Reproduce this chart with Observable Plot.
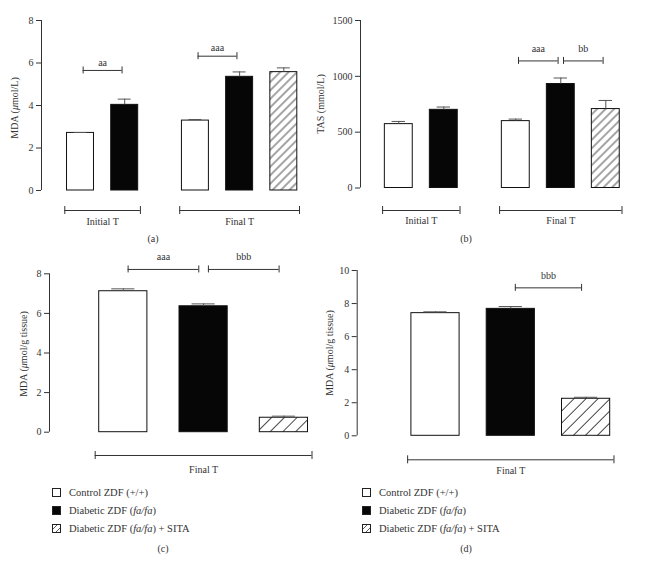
<!DOCTYPE html>
<html>
<head>
<meta charset="utf-8">
<script src="https://cdn.jsdelivr.net/npm/d3@7"></script>
<script src="https://cdn.jsdelivr.net/npm/@observablehq/plot@0.6"></script>
<style>
  body { margin: 0; background: #fff; }
  #fig { position: relative; width: 646px; height: 561px; font-family: "Liberation Serif", "DejaVu Serif", serif; color: #333; }
  .panel { position: absolute; }
  .cap { position: absolute; font-size: 10px; transform: translate(-50%, -50%); white-space: nowrap; }
  .ylab { position: absolute; font-size: 10px; transform: translate(-50%, -50%) rotate(-90deg); white-space: nowrap; }
  .leg { position: absolute; font-size: 10.5px; white-space: nowrap; }
  .leg .row { height: 18px; display: flex; align-items: center; }
  .leg .sw { width: 9px; height: 9px; box-sizing: border-box; border: 1px solid #222; margin-right: 8px; }
</style>
</head>
<body>
<div id="fig"></div>
<script>
// ---------- data ----------
const treatments = ["Control ZDF (+/+)", "Diabetic ZDF (fa/fa)", "Diabetic ZDF (fa/fa) + SITA"];
const timeGroups = ["Initial T", "Final T"];

// (a) MDA (µmol/L)
const aGroup = ["Initial T", "Initial T", "Final T", "Final T", "Final T"];
const aTreat = [0, 1, 0, 1, 2];
const aMean = [2.71, 4.03, 3.29, 5.35, 5.57];
const aErr = [0.02, 0.27, 0.05, 0.23, 0.2];
const aTicks = [0, 2, 4, 6, 8];
const aSigLabel = ["aa", "aaa"];
const aSigFrom = [0, 2];
const aSigTo = [1, 3];
const aSigY = [5.65, 6.32];

// (b) TAS (mmol/L)
const bGroup = ["Initial T", "Initial T", "Final T", "Final T", "Final T"];
const bTreat = [0, 1, 0, 1, 2];
const bMean = [572, 700, 599, 931, 707];
const bErr = [24, 25, 18, 54, 77];
const bTicks = [0, 500, 1000, 1500];
const bSigLabel = ["aaa", "bb"];
const bSigFrom = [2, 3];
const bSigTo = [3, 4];
const bSigY = [1138, 1138];

// (c) MDA (µmol/g tissue)
const cGroup = ["Final T", "Final T", "Final T"];
const cTreat = [0, 1, 2];
const cMean = [7.12, 6.36, 0.73];
const cErr = [0.12, 0.12, 0.08];
const cTicks = [0, 2, 4, 6, 8];
const cSigLabel = ["aaa", "bbb"];
const cSigFrom = [0, 1];
const cSigTo = [1, 2];
const cSigY = [8.22, 8.22];

// (d) MDA (µmol/g tissue)
const dGroup = ["Final T", "Final T", "Final T"];
const dTreat = [0, 1, 2];
const dMean = [7.42, 7.68, 2.24];
const dErr = [0.08, 0.14, 0.09];
const dTicks = [0, 2, 4, 6, 8, 10];
const dSigLabel = ["bbb"];
const dSigFrom = [1];
const dSigTo = [2];
const dSigY = [8.95];

// ---------- drawing ----------
const fig = document.getElementById("fig");

function drawPanel(p) {
  const present = timeGroups.filter(g => p.group.includes(g));
  const counters = {};
  const pos = p.group.map(g => {
    counters[g] = (counters[g] ?? -1) + 1;
    return counters[g] + present.indexOf(g) * 2.6;
  });
  const rows = p.mean.map((m, i) => ({pos: pos[i], mean: m, top: m + p.err[i], treat: p.treat[i]}));
  const bw = p.barW, cap = bw * 0.24;
  const groups = present.map(g => {
    const ps = pos.filter((_, i) => p.group[i] === g);
    return {name: g, x1: d3.min(ps) - bw / 2 - 0.05, x2: d3.max(ps) + bw / 2 + 0.05};
  });
  const groupEnds = groups.flatMap(g => [{x: g.x1}, {x: g.x2}]);
  const sig = p.sigLabel.map((l, i) => ({label: l, x1: pos[p.sigFrom[i]] + 0.06, x2: pos[p.sigTo[i]] - 0.06, y: p.sigY[i]}));
  const sigEnds = sig.flatMap(s => [{x: s.x1, y: s.y}, {x: s.x2, y: s.y}]);
  const xmin = (p.ml - p.c0) / p.s, xmax = (p.W - p.c0) / p.s;
  const ymax = d3.max(p.ticks);
  const hatchId = "hatch-" + p.id;
  const defs = () => {
    const d = d3.create("svg:defs");
    const pat = d.append("pattern").attr("id", hatchId).attr("patternUnits", "userSpaceOnUse")
      .attr("width", p.hatch).attr("height", p.hatch).attr("patternTransform", "rotate(45)");
    pat.append("rect").attr("width", p.hatch).attr("height", p.hatch).attr("fill", "white");
    pat.append("line").attr("x1", p.hatch / 2).attr("y1", 0).attr("x2", p.hatch / 2).attr("y2", p.hatch)
      .attr("stroke", "#1a1a1a").attr("stroke-width", 0.8);
    return d.node();
  };
  const fills = ["white", "#060606", `url(#${hatchId})`];
  const ink = "#333";

  const chart = Plot.plot({
    width: p.W,
    height: p.H,
    marginLeft: p.ml,
    marginRight: 0,
    marginTop: p.mt,
    marginBottom: p.mb,
    style: {fontFamily: "Liberation Serif, DejaVu Serif, serif", fontSize: "10px", color: ink, background: "transparent", overflow: "visible"},
    x: {type: "linear", domain: [xmin, xmax], axis: null},
    y: {domain: [0, ymax], ticks: p.ticks, tickSize: 5, tickPadding: 3, label: null, tickFormat: d => String(d)},
    marks: [
      defs,
      Plot.ruleX([xmin], {y1: 0, y2: ymax, stroke: ink}),
      ...fills.map((f, k) => Plot.rect(rows.filter(d => d.treat === k), {
        x1: d => d.pos - bw / 2, x2: d => d.pos + bw / 2, y1: 0, y2: "mean",
        fill: f, stroke: "#111", strokeWidth: 1
      })),
      Plot.ruleX(rows, {x: "pos", y1: "mean", y2: "top", stroke: "#555"}),
      Plot.ruleY(rows, {y: "top", x1: d => d.pos - cap, x2: d => d.pos + cap, stroke: "#555"}),
      // time group brackets below the axis
      Plot.ruleY(groups, {y: 0, x1: "x1", x2: "x2", dy: p.gDy, stroke: ink}),
      Plot.ruleX(groupEnds, {x: "x", y1: 0, y2: 0, insetTop: -4, insetBottom: -4, dy: p.gDy, stroke: ink}),
      Plot.text(groups, {x: d => (d.x1 + d.x2) / 2, y: 0, text: "name", dy: p.gLabelDy, fill: ink, fontSize: 10}),
      // significance brackets
      Plot.ruleY(sig, {y: "y", x1: "x1", x2: "x2", stroke: ink}),
      Plot.ruleX(sigEnds, {x: "x", y1: "y", y2: "y", insetTop: -3.5, insetBottom: -3.5, stroke: ink}),
      Plot.text(sig, {x: d => (d.x1 + d.x2) / 2, y: "y", text: "label", dy: p.sigDy, fill: ink, fontSize: 10})
    ]
  });
  const wrap = document.createElement("div");
  wrap.className = "panel";
  wrap.style.left = p.left + "px";
  wrap.style.top = p.top + "px";
  wrap.appendChild(chart);
  fig.appendChild(wrap);

  const yl = document.createElement("div");
  yl.className = "ylab";
  yl.style.left = p.ylx + "px";
  yl.style.top = p.yly + "px";
  yl.innerHTML = p.ylabel;
  fig.appendChild(yl);

  const cp = document.createElement("div");
  cp.className = "cap";
  cp.style.left = p.capX + "px";
  cp.style.top = p.capY + "px";
  cp.textContent = p.caption;
  fig.appendChild(cp);
}

function drawLegend(left, top) {
  const lg = document.createElement("div");
  lg.className = "leg";
  lg.style.left = left + "px";
  lg.style.top = top + "px";
  treatments.forEach((t, k) => {
    const row = document.createElement("div");
    row.className = "row";
    const sw = document.createElement("span");
    sw.className = "sw";
    if (k === 1) sw.style.background = "#060606";
    if (k === 2) sw.innerHTML = '<svg width="7" height="7" style="display:block"><line x1="0" y1="4" x2="4" y2="0" stroke="#333" stroke-width="0.8"/><line x1="3" y1="7" x2="7" y2="3" stroke="#333" stroke-width="0.8"/></svg>';
    row.appendChild(sw);
    const tx = document.createElement("span");
    tx.innerHTML = t.replace("fa/fa", "<i>fa/fa</i>");
    row.appendChild(tx);
    lg.appendChild(row);
  });
  fig.appendChild(lg);
}

drawPanel({id: "a", group: aGroup, treat: aTreat, mean: aMean, err: aErr, ticks: aTicks,
  sigLabel: aSigLabel, sigFrom: aSigFrom, sigTo: aSigTo, sigY: aSigY,
  left: 0, top: 0, W: 320, H: 250, ml: 41, mt: 20, mb: 60, c0: 80, s: 44.2, barW: 0.61, hatch: 6,
  gDy: 20, gLabelDy: 31, sigDy: -8,
  ylabel: "MDA (<i>μ</i>mol/L)", ylx: 14, yly: 108, caption: "(a)", capX: 153, capY: 238});

drawPanel({id: "b", group: bGroup, treat: bTreat, mean: bMean, err: bErr, ticks: bTicks,
  sigLabel: bSigLabel, sigFrom: bSigFrom, sigTo: bSigTo, sigY: bSigY,
  left: 320, top: 0, W: 326, H: 250, ml: 40, mt: 20, mb: 62.5, c0: 78.3, s: 45, barW: 0.62, hatch: 6,
  gDy: 22.5, gLabelDy: 33, sigDy: -12.5,
  ylabel: "TAS (mmol/L)", ylx: 320, yly: 104, caption: "(b)", capX: 466, capY: 238});

drawPanel({id: "c", group: cGroup, treat: cTreat, mean: cMean, err: cErr, ticks: cTicks,
  sigLabel: cSigLabel, sigFrom: cSigFrom, sigTo: cSigTo, sigY: cSigY,
  left: 0, top: 250, W: 320, H: 230, ml: 49, mt: 23.3, mb: 48.3, c0: 122.8, s: 80.3, barW: 0.6, hatch: 9,
  gDy: 23.3, gLabelDy: 37.3, sigDy: -13,
  ylabel: "MDA (<i>μ</i>mol/g tissue)", ylx: 22.7, yly: 354, caption: "(c)", capX: 163, capY: 548});

drawPanel({id: "d", group: dGroup, treat: dTreat, mean: dMean, err: dErr, ticks: dTicks,
  sigLabel: dSigLabel, sigFrom: dSigFrom, sigTo: dSigTo, sigY: dSigY,
  left: 320, top: 250, W: 326, H: 230, ml: 36.7, mt: 20, mb: 44.7, c0: 115, s: 75.3, barW: 0.64, hatch: 8.5,
  gDy: 24, gLabelDy: 35, sigDy: -12.3,
  ylabel: "MDA (<i>μ</i>mol/g tissue)", ylx: 329, yly: 353, caption: "(d)", capX: 466, capY: 548});

drawLegend(52, 483);
drawLegend(362, 483);
</script>
</body>
</html>
